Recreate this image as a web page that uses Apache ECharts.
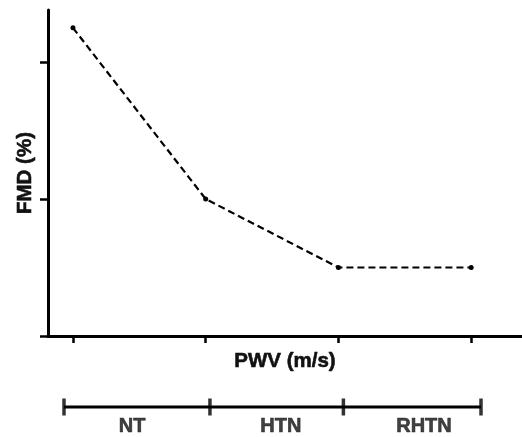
<!DOCTYPE html>
<html>
<head>
<meta charset="utf-8">
<script src="https://cdn.jsdelivr.net/npm/echarts@6/dist/echarts.min.js"></script>
<style>
  html, body { margin: 0; padding: 0; background: #fff; }
  #chart { width: 522px; height: 437px; }
</style>
</head>
<body>
<div id="chart"></div>
<script>
  // main curve
  const pwvSteps = [1, 2, 3, 4];
  const fmdValues = [2.25, 1.0, 0.5, 0.5];
  const yTicks = [0, 1, 2];

  // bracket below the axis
  const groupBounds = [0, 1.05, 2.01, 3];
  const groupNames = ['NT', 'HTN', 'RHTN'];
  const groupLabelPos = [0.49, 1.56, 2.59];

  const chart = echarts.init(document.getElementById('chart'));
  const font = 'Liberation Sans, Arial, sans-serif';
  const heavy = { textBorderColor: '#111', textBorderWidth: 0.6 };

  let option = {
    animation: false,
    grid: [
      { left: 48, right: 0, top: 10, bottom: 101, containLabel: false },
      { left: 64, width: 417, top: 380, height: 54 }
    ],
    xAxis: [
      {
        gridIndex: 0,
        type: 'value',
        min: 0.812,
        max: 4.383,
        name: 'PWV (m/s)',
        nameLocation: 'middle',
        nameGap: 15,
        nameTextStyle: Object.assign({ fontFamily: font, fontWeight: 'bold', fontSize: 20.5, color: '#111' }, heavy),
        splitLine: { show: false },
        axisLine: { show: true, onZero: false, lineStyle: { color: '#000', width: 3 } },
        axisTick: { show: true, customValues: pwvSteps, length: 7, lineStyle: { color: '#000', width: 2.5 } },
        axisLabel: { show: false }
      },
      {
        gridIndex: 1,
        type: 'value',
        min: 0,
        max: 3,
        show: false
      }
    ],
    yAxis: [
      {
        gridIndex: 0,
        type: 'value',
        min: 0,
        max: 2.38,
        name: 'FMD (%)',
        nameLocation: 'middle',
        nameGap: 12,
        nameTextStyle: Object.assign({ fontFamily: font, fontWeight: 'bold', fontSize: 20.5, color: '#111' }, heavy),
        splitLine: { show: false },
        axisLine: { show: true, lineStyle: { color: '#000', width: 3 } },
        axisTick: { show: true, customValues: yTicks, length: 8, lineStyle: { color: '#000', width: 2.5 } },
        axisLabel: { show: false }
      },
      {
        gridIndex: 1,
        type: 'value',
        min: -1,
        max: 1,
        show: false
      }
    ],
    series: [
      {
        type: 'line',
        xAxisIndex: 0,
        yAxisIndex: 0,
        data: pwvSteps.map((x, i) => [x, fmdValues[i]]),
        symbol: 'circle',
        symbolSize: 5,
        itemStyle: { color: '#000' },
        lineStyle: { color: '#000', width: 2.2, type: [7, 4] }
      },
      {
        type: 'line',
        xAxisIndex: 1,
        yAxisIndex: 1,
        data: [[groupBounds[0], 0], [groupBounds[3], 0]],
        symbol: 'none',
        lineStyle: { color: '#000', width: 3 }
      },
      {
        type: 'scatter',
        xAxisIndex: 1,
        yAxisIndex: 1,
        data: groupBounds.map(x => [x, 0]),
        symbol: 'rect',
        symbolSize: [3.5, 17],
        itemStyle: { color: '#000' }
      },
      {
        type: 'scatter',
        xAxisIndex: 1,
        yAxisIndex: 1,
        data: groupLabelPos.map((x, i) => ({ value: [x, -0.74], name: groupNames[i] })),
        symbolSize: 0,
        label: Object.assign({
          show: true,
          position: 'inside',
          formatter: p => p.name,
          fontFamily: font,
          fontWeight: 'bold',
          fontSize: 20,
          color: '#111'
        }, heavy)
      }
    ]
  };

  chart.setOption(option);
</script>
</body>
</html>
